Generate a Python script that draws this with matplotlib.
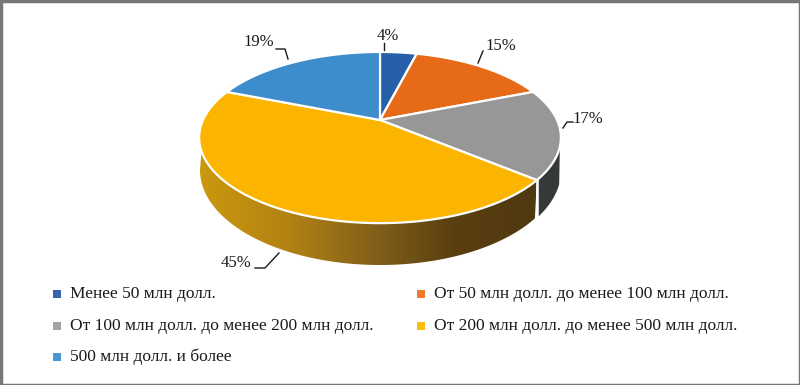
import numpy as np
import matplotlib
matplotlib.use('Agg')
import matplotlib.pyplot as plt
from matplotlib.patches import Polygon, Rectangle
from matplotlib.colors import LinearSegmentedColormap

plt.rcParams['font.family'] = ['Liberation Serif', 'DejaVu Serif']

shares = [4, 15, 17, 45, 19]
share_labels = ['4%', '15%', '17%', '45%', '19%']
categories = ['Менее 50 млн долл.',
              'От 50 млн долл. до менее 100 млн долл.',
              'От 100 млн долл. до менее 200 млн долл.',
              'От 200 млн долл. до менее 500 млн долл.',
              '500 млн долл. и более']
colors = ['#2560a8', '#e66a17', '#979797', '#fbb500', '#3d8ccb']
legend_colors = ['#3565ae', '#ee7a2c', '#a3a3a3', '#fdbb13', '#4a95d4']

# pie geometry in pixels, perspective tilt makes the front bigger
cx, cy = 380, 120
b, a, k = 177, 82, 0.205
# outline of the bottom rim
low_cy, low_rx, low_ry = 170, 180, 95


def project(theta):
    # theta is clockwise from 12 o'clock
    x = np.sin(theta)
    y = np.cos(theta)
    w = 1 + k * y
    return cx + b * x / w, cy - a * y / w


def lower_arc(x_start, x_end):
    # bottom rim going from x_start round the front to x_end
    p0 = np.arccos((x_start - cx) / low_rx)
    p1 = np.arccos(np.clip((x_end - cx) / low_rx, -1, 1))
    phi = np.linspace(p0, p1, 200)
    return cx + low_rx * np.cos(phi), low_cy + low_ry * np.sin(phi)


fig = plt.figure(figsize=(8, 3.85), dpi=100)
ax = fig.add_axes([0, 0, 1, 1])

edges = np.cumsum([0] + shares) / sum(shares) * 2 * np.pi

# side of the big slice, gradient clipped to the band under it
t = np.linspace(edges[3], np.deg2rad(272), 200)
px, py = project(t)
lx, ly = lower_arc(px[0] - 2, px.min())
band = np.column_stack([np.r_[px, lx[::-1]], np.r_[py, ly[::-1]]])
grad = LinearSegmentedColormap.from_list('side', ['#cb980d', '#b48414', '#86621a', '#5a3f10', '#503810'])
im = ax.imshow(np.linspace(0, 1, 256)[None, :], cmap=grad, extent=[px.min(), px.max(), 300, 100],
               aspect='auto', zorder=1)
clip = Polygon(band, transform=ax.transData, fc='none', ec='none')
ax.add_patch(clip)
im.set_clip_path(clip)

# dark side of the grey slice
t = np.linspace(np.deg2rad(97), edges[3], 60)
px, py = project(t)
rx = np.linspace(px[-1] + 1, px[0] - 1, 30)
ry = low_cy + (py[-1] + 37 - low_cy) * np.sqrt(np.clip(1 - ((rx - cx) / (px[0] - cx + 1)) ** 2, 0, 1)) / \
     np.sqrt(1 - ((px[-1] + 1 - cx) / (px[0] - cx + 1)) ** 2)
ax.add_patch(Polygon(np.column_stack([np.r_[px, rx], np.r_[py, ry]]), fc='#35393a', ec='none', zorder=2))
# white seam between the two sides
ax.plot([px[-1], px[-1]], [py[-1], py[-1] + 37], color='white', lw=1.8, zorder=3)

# top face
for i, c in enumerate(colors):
    t = np.linspace(edges[i], edges[i + 1], 120)
    px, py = project(t)
    ax.add_patch(Polygon(np.column_stack([np.r_[cx, px], np.r_[cy, py]]),
                         fc=c, ec='white', lw=1.6, joinstyle='miter', zorder=4))

# labels and leader lines
label_xy = [(388, 36), (501, 46), (588, 119), (259, 42), (236, 263)]
label_order = [0, 1, 2, 4, 3]
leaders = [[(384, 43), (384, 50)],
           [(483, 51), (478, 63)],
           [(573, 122), (567, 122), (563, 128)],
           [(276, 49), (285, 49), (288, 59)],
           [(255, 268), (265, 268), (279, 253)]]
for (lx, ly), idx, line in zip(label_xy, label_order, leaders):
    ax.text(lx, ly, share_labels[idx], fontsize=12, color='#1a1a1a', ha='center', va='center', zorder=6)
    ax.plot(*zip(*line), color='#1a1a1a', lw=1, zorder=5)

# legend
legend_xy = [(57, 294), (421, 294), (57, 326), (421, 326), (57, 357)]
for (lx, ly), name, c in zip(legend_xy, categories, legend_colors):
    ax.add_patch(Rectangle((lx - 4, ly - 4), 8, 8, fc=c, ec='none'))
    ax.text(lx + 12.5, ly, name, fontsize=12.55, color='#1a1a1a', ha='left', va='center')

# thin grey frame of the scan
ax.add_patch(Rectangle((0.5, 0.5), 799, 384, fc='none', ec='#777777', lw=2.5, zorder=8))

ax.set_xlim(0, 800)
ax.set_ylim(385, 0)
ax.axis('off')
fig.savefig('out.png', dpi=100)
